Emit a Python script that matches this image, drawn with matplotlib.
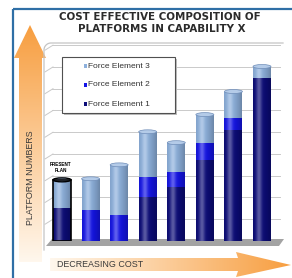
import numpy as np
import matplotlib
matplotlib.use("Agg")
import matplotlib.pyplot as plt
from matplotlib.patches import Polygon, Rectangle, Ellipse

# ---------------- data ----------------
options = ["1", "2", "3", "4", "5", "6", "7", "8"]
force_element_1 = [15.2, 0.0, 0.0, 20.3, 24.9, 37.3, 51.2, 75.1]
force_element_2 = [0.0, 14.3, 12.0, 9.2, 6.9, 7.9, 5.5, 0.0]
force_element_3 = [12.9, 14.3, 23.0, 20.7, 13.4, 12.9, 12.0, 5.1]
legend_labels = ["Force Element 3", "Force Element 2", "Force Element 1"]
title_lines = ["COST EFFECTIVE COMPOSITION OF", "PLATFORMS IN CAPABILITY X"]
y_label = "PLATFORM NUMBERS"
x_label = "DECREASING COST"
present_label = "PRESENT\nPLAN"
grid_values = [10, 20, 30, 40, 50, 60, 70, 80, 90]

C1 = "#0c0c78"   # navy
C2 = "#1414e6"   # bright blue
C3 = "#8db0dc"   # light blue
FONT = ["Liberation Sans", "DejaVu Sans"]

W, H = 292, 278
fig = plt.figure(figsize=(W / 100, H / 100), dpi=100)

# background layer in pixel coordinates
bg = fig.add_axes([0, 0, 1, 1], zorder=0)
bg.set_xlim(0, W); bg.set_ylim(H, 0); bg.axis("off")

def orange_grad(n, reverse=False):
    t = np.linspace(0, 1, n)
    if reverse:
        t = t[::-1]
    orange = np.array([0.97, 0.62, 0.25])
    pale = np.array([1.0, 0.97, 0.93])
    return orange[None, :] * (1 - t[:, None]) + pale[None, :] * t[:, None]

# vertical arrow
varrow = Polygon([(30, 25), (46, 58), (42, 58), (42, 262), (19, 262), (19, 58), (14, 58)],
                 closed=True, facecolor="none", edgecolor="none")
bg.add_patch(varrow)
g = orange_grad(200)[:, None, :]
im = bg.imshow(g, extent=(13, 47, 262, 25), origin="upper", aspect="auto", zorder=1)
im.set_clip_path(varrow)

# horizontal arrow
harrow = Polygon([(50, 258), (238, 258), (236, 252), (291, 265), (236, 277), (238, 271), (50, 271)],
                 closed=True, facecolor="none", edgecolor="none")
bg.add_patch(harrow)
g2 = orange_grad(200, reverse=True)[None, :, :]
im2 = bg.imshow(g2, extent=(50, 292, 278, 251), origin="upper", aspect="auto", zorder=1)
im2.set_clip_path(harrow)

# blue frame
bg.plot([12.5, 12.5], [8.5, 278], color="#2f6fa6", lw=1.6, solid_capstyle="butt")
bg.plot([12.5, 292], [8.5, 8.5], color="#2f6fa6", lw=1.6, solid_capstyle="butt")

# plot-region border (top + rounded left corner)
th = np.linspace(np.pi / 2, np.pi, 20)
cx = 51 + 7 * np.cos(th); cy = 50 - 7 * np.sin(th)
bx = np.concatenate([[283], cx, [44]]); by = np.concatenate([[43], cy, [250]])
bg.plot(bx, by, color="#c4c4c4", lw=0.9)

# side-wall slanted gridlines
px_per = (241 - 43) / 91.0
for v in grid_values:
    yp = 241 - v * px_per
    bg.plot([45, 53], [yp + 5, yp], color="#c9c9c9", lw=0.7)

# floor
bg.add_patch(Polygon([(46, 246), (279, 246), (284, 239), (52, 239)], closed=True,
                     facecolor="#a3a3a3", edgecolor="none"))

bg.set_xlim(0, W); bg.set_ylim(H, 0)

# ---------------- main chart ----------------
ax = fig.add_axes([52 / W, 1 - 241 / H, (281 - 52) / W, (241 - 43) / H], zorder=1)
ax.set_facecolor("none")
x = np.arange(len(options))
w = 0.63
e1 = np.array(force_element_1); e2 = np.array(force_element_2); e3 = np.array(force_element_3)
b1 = ax.bar(x, e1, w, color=C1, zorder=3)
b2 = ax.bar(x, e2, w, bottom=e1, color=C2, zorder=3)
b3 = ax.bar(x, e3, w, bottom=e1 + e2, color=C3, zorder=3)

def shade_row(color, n=48):
    base = np.array(matplotlib.colors.to_rgb(color))
    t = np.linspace(0, 1, n)
    h = 0.32 * np.exp(-((t - 0.33) / 0.16) ** 2)
    d = 0.45 * np.abs(t - 0.33) ** 1.6
    rgb = base[None, :] + (1 - base[None, :]) * h[:, None]
    rgb = rgb * (1 - d[:, None])
    return np.clip(rgb, 0, 1)[None, :, :]

for cont, col in ((b1, C1), (b2, C2), (b3, C3)):
    for p in cont.patches:
        if p.get_height() <= 0:
            continue
        x0, y0 = p.get_x(), p.get_y()
        img = ax.imshow(shade_row(col), extent=(x0, x0 + p.get_width(), y0, y0 + p.get_height()),
                        aspect="auto", zorder=3.5, interpolation="bilinear")
        img.set_clip_path(p)

totals = e1 + e2 + e3
cap_h = 1.8
for i in range(len(options)):
    bottom_col = C1 if e1[i] > 0 else C2
    ax.add_patch(Ellipse((x[i], 0), w, cap_h, facecolor=bottom_col, edgecolor="none", zorder=2.9))
    ax.add_patch(Ellipse((x[i], totals[i]), w, cap_h, facecolor="#b4cbe8",
                         edgecolor="#6f8db8", lw=0.5, zorder=4))

# present plan outline (first bar)
ax.add_patch(Rectangle((x[0] - w / 2, 0), w, totals[0], fill=False, edgecolor="black", lw=1.2, zorder=5))
ax.add_patch(Ellipse((x[0], totals[0]), w, cap_h, fill=False, edgecolor="black", lw=1.0, zorder=5))
ax.text(x[0] - 0.05, totals[0] + 3.2, present_label, ha="center", va="bottom", fontsize=3.3,
        fontweight="bold", family=FONT, linespacing=1.3, zorder=6)

ax.set_xlim(-0.35, 7.665)
ax.set_ylim(0, 91)
ax.set_yticks(grid_values)
ax.set_xticks([])
ax.tick_params(length=0, labelleft=False, labelbottom=False)
for s in ax.spines.values():
    s.set_visible(False)
ax.grid(axis="y", color="#cacaca", lw=0.7, zorder=0)
ax.set_axisbelow(True)

# ---------------- foreground: titles, labels, legend ----------------
fg = fig.add_axes([0, 0, 1, 1], zorder=2)
fg.set_xlim(0, W); fg.set_ylim(H, 0); fg.axis("off"); fg.set_facecolor("none")

TFONT = ["DejaVu Sans"]
fg.text(160, 16.5, title_lines[0], ha="center", va="center", fontsize=7.4, fontweight="bold",
        family=TFONT, color="#2b2b2b")
fg.text(162, 29.5, title_lines[1], ha="center", va="center", fontsize=7.4, fontweight="bold",
        family=TFONT, color="#2b2b2b")
fg.text(30.5, 178, y_label, rotation=90, ha="center", va="center", fontsize=6.4,
        family=FONT, color="#3a3a3a")
fg.text(57, 264.5, x_label, ha="left", va="center", fontsize=6.4, family=FONT, color="#3a3a3a")

# legend box
fg.add_patch(Rectangle((64, 59), 113, 56, facecolor="#bdbdbd", edgecolor="none"))
fg.add_patch(Rectangle((62, 57), 113, 56, facecolor="white", edgecolor="#505050", lw=0.8))
for yy, lab, col in zip([66, 85, 104], legend_labels, [C3, C2, C1]):
    fg.add_patch(Rectangle((83.5, yy - 1.8), 3.6, 3.6, facecolor=col, edgecolor="none"))
    fg.text(88.5, yy, lab, ha="left", va="center", fontsize=6.0, family=FONT, color="#333333")

fig.savefig("out.png", dpi=100)
